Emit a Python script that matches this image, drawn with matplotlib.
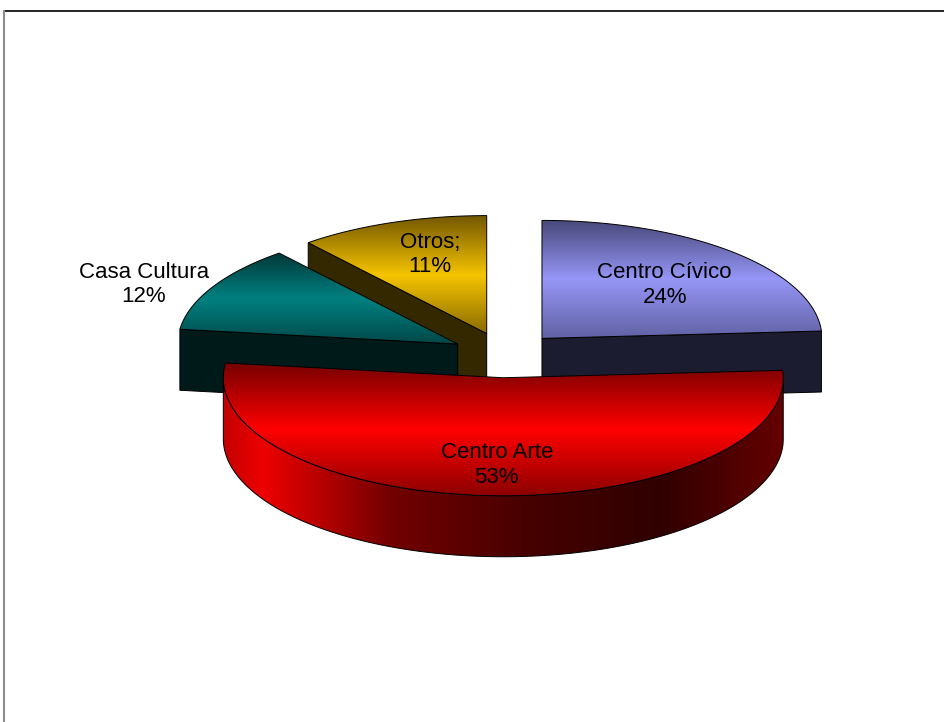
import numpy as np
import matplotlib
matplotlib.use("Agg")
import matplotlib.pyplot as plt
from matplotlib.patches import Polygon
from matplotlib.colors import LinearSegmentedColormap

# Shares per venue, clockwise from 12 o'clock
labels = ["Centro Cívico", "Centro Arte", "Casa Cultura", "Otros;"]
shares = [24, 53, 12, 11]

# top face gradients (top edge -> middle -> bottom edge) and wall colours
top_stops = [
    ["#48487a", "#9696f8", "#6262a6"],
    ["#760000", "#ff0000", "#8c0000"],
    ["#003838", "#008080", "#004848"],
    ["#745800", "#f5c400", "#8a6a00"],
]
wall_colors = ["#1c1c30", "#5a0000", "#001a1a", "#332800"]
# label placement as fraction of the radius (horizontal, vertical)
label_fx = [0.64, 0.74, 1.28, 0.60]
label_fy = [0.62, 0.74, 1.05, 0.71]

# pie layout in pixel space
CX, CY = 505, 355
RX, RY = 280, 118
DEPTH = 61
EXPLODE = 54


def arc(cx, cy, t0, t1, z=0, n=200):
    t = np.radians(np.linspace(t0, t1, n))
    return np.column_stack([cx + RX * np.sin(t), cy - RY * np.cos(t) + z])


def gradient_face(ax, verts, stops, z, vertical=True):
    poly = Polygon(verts, closed=True, facecolor="none",
                   edgecolor="black", lw=0.7, zorder=z + 0.5)
    ax.add_patch(poly)
    xmin, ymin = verts.min(axis=0)
    xmax, ymax = verts.max(axis=0)
    cmap = LinearSegmentedColormap.from_list("g", stops)
    g = np.linspace(0, 1, 256)
    img = g[:, None] if vertical else g[None, :]
    im = ax.imshow(img, cmap=cmap, extent=(xmin, xmax, ymax, ymin),
                   origin="upper", aspect="auto", interpolation="bilinear",
                   zorder=z)
    im.set_clip_path(poly)


def flat_face(ax, verts, color, z):
    ax.add_patch(Polygon(verts, closed=True, facecolor=color,
                         edgecolor="black", lw=0.7, zorder=z))


fig = plt.figure(figsize=(9.44, 7.22), dpi=100)
ax = fig.add_axes([0, 0, 1, 1])
ax.set_axis_off()

total = sum(shares)
bounds = np.concatenate([[0], np.cumsum(shares) / total * 360])

slices = []
for i, (lab, v) in enumerate(zip(labels, shares)):
    t0, t1 = bounds[i], bounds[i + 1]
    mid = np.radians((t0 + t1) / 2)
    cx = CX + EXPLODE * np.sin(mid)
    cy = CY - EXPLODE * RY / RX * np.cos(mid)
    slices.append((cy, i, t0, t1, cx, mid))

# paint back to front
z = 1
for cy, i, t0, t1, cx, mid in sorted(slices):
    # cut face at the start angle
    if np.sin(np.radians(t0)) < -1e-6:
        p = arc(cx, cy, t0, t0, n=1)[0]
        flat_face(ax, np.array([[cx, cy], p, p + [0, DEPTH], [cx, cy + DEPTH]]),
                  wall_colors[i], z)
        z += 1
    # cut face at the end angle
    if np.sin(np.radians(t1)) > 1e-6:
        p = arc(cx, cy, t1, t1, n=1)[0]
        flat_face(ax, np.array([[cx, cy], p, p + [0, DEPTH], [cx, cy + DEPTH]]),
                  wall_colors[i], z)
        z += 1
    # outer wall, front half only
    a0, a1 = max(t0, 90), min(t1, 270)
    if a1 > a0:
        top = arc(cx, cy, a0, a1)
        bot = arc(cx, cy, a0, a1, z=DEPTH)[::-1]
        verts = np.vstack([top, bot])
        # shading runs left to right around the rim
        wall_stops = [(0.0, "#c40000"), (0.07, "#ee0000"), (0.3, "#720000"),
                      (0.55, "#460000"), (0.78, "#300000"), (1.0, "#640000")]
        gradient_face(ax, verts, wall_stops, z, vertical=False)
        z += 1
    # top face
    verts = np.vstack([[cx, cy], arc(cx, cy, t0, t1)])
    st = top_stops[i]
    gradient_face(ax, verts, [(0, st[0]), (0.5, st[1]), (1, st[2])], z)
    z += 1

    lx = cx + label_fx[i] * RX * np.sin(mid)
    ly = cy - label_fy[i] * RY * np.cos(mid)
    ax.text(lx, ly, f"{labels[i]}\n{shares[i]}%", ha="center", va="center",
            fontsize=16, family=["Liberation Sans", "DejaVu Sans"],
            color="black", zorder=100)

# chart area frame
ax.plot([4, 944], [11, 11], color="black", lw=1.2, zorder=200)
ax.plot([4, 4], [11, 722], color="#8c8c8c", lw=1.5, zorder=200)

ax.set_xlim(0, 944)
ax.set_ylim(722, 0)
fig.savefig("out.png", dpi=100, facecolor="white")
